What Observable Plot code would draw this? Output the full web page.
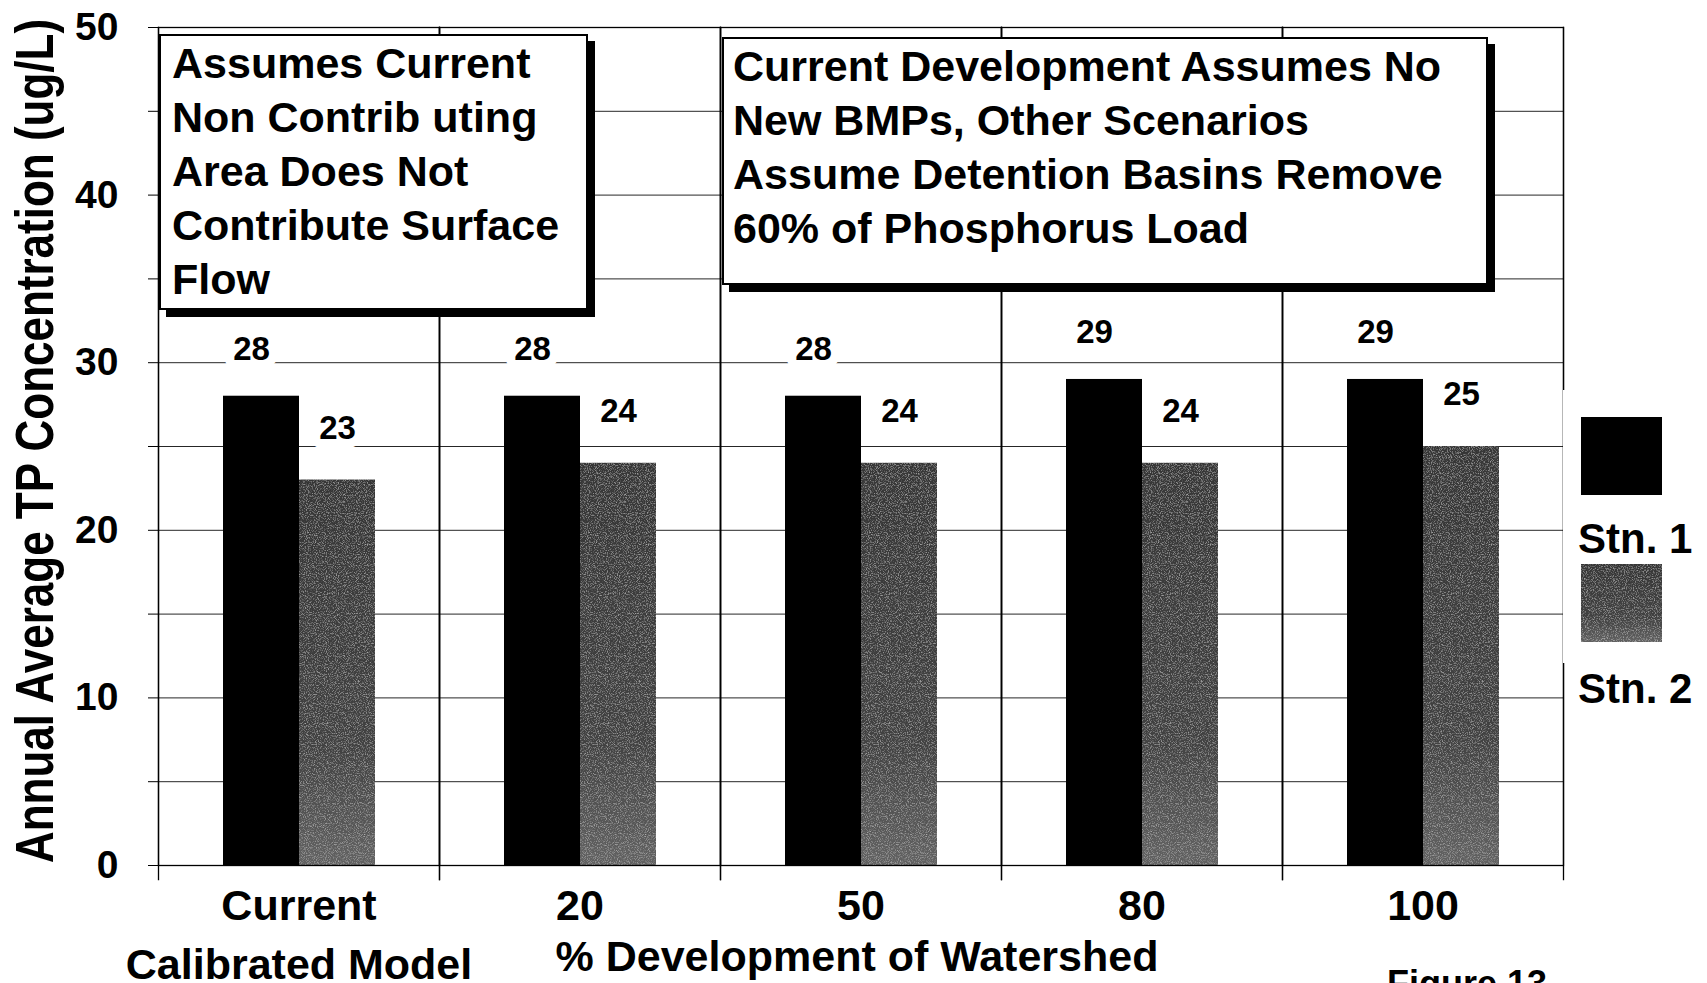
<!DOCTYPE html>
<html>
<head>
<meta charset="utf-8">
<script src="https://cdn.jsdelivr.net/npm/d3@7"></script>
<script src="https://cdn.jsdelivr.net/npm/@observablehq/plot@0.6"></script>
<style>
  html, body { margin: 0; padding: 0; background: #fff; }
  body { width: 1707px; height: 983px; overflow: hidden; position: relative;
         font-family: "Liberation Sans", Arial, Helvetica, sans-serif; font-weight: bold; color: #000; }
  #chart { position: absolute; left: 0; top: 0; }
  .box { position: absolute; background: #fff; border: 2px solid #000; box-shadow: 7px 7px 0 #000;
         font-size: 43px; line-height: 54px; white-space: nowrap; box-sizing: border-box; }
  .txt { position: absolute; white-space: nowrap; line-height: 1; }
  #legend { position: absolute; left: 1563px; top: 390px; width: 144px; height: 273px; background: #fff; }
  .sw { position: absolute; left: 18px; width: 81px; height: 78px; }
  .lg { position: absolute; left: 15px; font-size: 42px; line-height: 42px; white-space: nowrap; }
</style>
</head>
<body>
<div id="chart"></div>
<script>
// ---- data ----
const categories = ["Current", "20", "50", "80", "100"];
const categoryLabels = ["Current\nCalibrated Model", "20", "50", "80", "100"];
const stations = ["Stn. 1", "Stn. 2"];
const stn1Values = [28, 28, 28, 29, 29];
const stn2Values = [23, 24, 24, 24, 25];
const yTicks = [0, 5, 10, 15, 20, 25, 30, 35, 40, 45, 50];
const yTickLabels = [0, 10, 20, 30, 40, 50];
const yTitle = "Annual Average TP Concentration (ug/L)";
const xTitle = "% Development of Watershed";
const note1 = ["Assumes Current", "Non Contrib uting", "Area Does Not", "Contribute Surface", "Flow"];
const note2 = ["Current Development Assumes No", "New BMPs, Other Scenarios", "Assume Detention Basins Remove", "60% of Phosphorus Load"];
const figureLabel = "Figure 13";

const data = categories.flatMap((c, i) => [
  {cat: c, stn: stations[0], value: stn1Values[i]},
  {cat: c, stn: stations[1], value: stn2Values[i]}
]);

const FONT = '"Liberation Sans", Arial, Helvetica, sans-serif';
const labelStyle = {fx: "cat", x: "stn", y: "value", text: d => String(d.value),
  fontSize: 33, fontWeight: "bold", fill: "#000", stroke: "#fff", strokeWidth: 18};

const chart = Plot.plot({
  width: 1707, height: 983,
  marginLeft: 156, marginRight: 143, marginTop: 27, marginBottom: 118,
  style: {fontFamily: FONT, fontWeight: "bold", color: "#000", background: "transparent"},
  fx: {domain: categories, padding: 0, label: null},
  x: {domain: stations, paddingInner: 0, paddingOuter: 0.83, axis: null},
  y: {domain: [0, 50], label: null},
  color: {domain: stations, range: ["#000", "url(#stn2Fill)"]},
  marks: [
    Plot.gridY(yTicks, {stroke: "#000", strokeOpacity: 0.85, strokeWidth: 1}),
    Plot.barY(data, {fx: "cat", x: "stn", y: "value", fill: "stn"}),
    Plot.frame({stroke: "#000", strokeWidth: 1.3}),
    Plot.frame({anchor: "left", insetBottom: -14, stroke: "#000", strokeWidth: 1.3}),
    Plot.frame({anchor: "right", insetBottom: -14, stroke: "#000", strokeWidth: 1.3}),
    Plot.text(data.filter(d => d.stn === stations[0]), {...labelStyle, dy: -47, dx: -10}),
    Plot.text(data.filter(d => d.stn === stations[1]), {...labelStyle, dy: -52, dx: 0}),
    Plot.axisY(yTicks, {anchor: "left", tickSize: 10, tickPadding: 30, stroke: "#000",
      tickFormat: d => yTickLabels.includes(d) ? String(d) : "",
      fontSize: 39, fontWeight: "bold", label: null}),
    Plot.axisFx({anchor: "bottom", tickSize: 0, tickPadding: 12,
      tickFormat: d => categoryLabels[categories.indexOf(d)],
      fontSize: 43, fontWeight: "bold", lineHeight: 1.38, label: null})
  ]
});

// gradient + speckle texture for Stn. 2
const defs = d3.select(chart).insert("defs", ":first-child");
const g = defs.append("linearGradient").attr("id", "stn2Fill").attr("x1", 0).attr("y1", 0).attr("x2", 0).attr("y2", 1);
g.append("stop").attr("offset", "0%").attr("stop-color", "#363636");
g.append("stop").attr("offset", "70%").attr("stop-color", "#424242");
g.append("stop").attr("offset", "100%").attr("stop-color", "#626262");
const f = defs.append("filter").attr("id", "speckle").attr("x", 0).attr("y", 0).attr("width", 1).attr("height", 1);
f.append("feTurbulence").attr("type", "fractalNoise").attr("baseFrequency", 0.9).attr("numOctaves", 2).attr("seed", 7).attr("result", "noise");
f.append("feColorMatrix").attr("in", "noise").attr("type", "matrix")
  .attr("values", "0 0 0 0 1  0 0 0 0 1  0 0 0 0 1  0.9 0 0 0 -0.44").attr("result", "light");
f.append("feComposite").attr("in", "light").attr("in2", "SourceGraphic").attr("operator", "atop");
d3.select(chart).selectAll("rect").filter(function() { return this.getAttribute("fill") === "url(#stn2Fill)"; })
  .attr("filter", "url(#speckle)");

document.getElementById("chart").appendChild(chart);

// ---- overlays: annotation boxes, titles, legend ----
function addBox(lines, left, top, w, h, padLeft) {
  const b = document.createElement("div");
  b.className = "box";
  Object.assign(b.style, {left: left + "px", top: top + "px", width: w + "px", height: h + "px", paddingLeft: padLeft + "px"});
  b.innerHTML = lines.map(l => `<div>${l}</div>`).join("");
  document.body.appendChild(b);
}
addBox(note1, 159, 34, 429, 276, 11);
addBox(note2, 722, 37, 766, 248, 9);

function addText(text, css) {
  const t = document.createElement("div");
  t.className = "txt";
  t.textContent = text;
  Object.assign(t.style, css);
  document.body.appendChild(t);
}
addText(yTitle, {left: "35px", top: "441px", fontSize: "44px", transform: "translate(-50%,-50%) rotate(-90deg) scaleY(1.2)"});
addText(xTitle, {left: "857px", top: "956px", fontSize: "43px", transform: "translate(-50%,-50%)"});
addText(figureLabel, {left: "1387px", top: "966px", fontSize: "36px"});

const legend = document.createElement("div");
legend.id = "legend";
const swFills = ["#000", "url(#stn2Fill)"];
stations.forEach((s, i) => {
  const sw = d3.create("svg").attr("class", "sw").attr("width", 81).attr("height", 78)
    .style("top", (27 + i * 147) + "px");
  const r = sw.append("rect").attr("width", 81).attr("height", 78).attr("fill", swFills[i]);
  if (i === 1) r.attr("filter", "url(#speckle)");
  legend.appendChild(sw.node());
  const lb = document.createElement("div");
  lb.className = "lg";
  lb.style.top = (128 + i * 150) + "px";
  lb.textContent = s;
  legend.appendChild(lb);
});
document.body.appendChild(legend);
</script>
</body>
</html>
